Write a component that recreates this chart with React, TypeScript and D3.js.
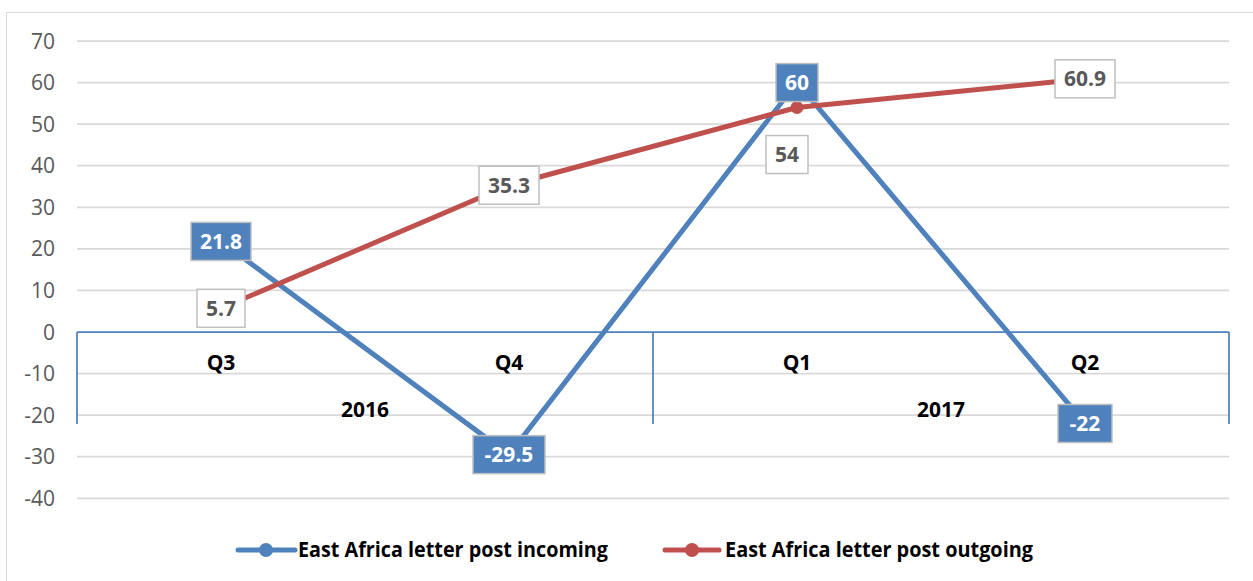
import React from "react";
import * as d3 from "d3";

const quarters = ["Q3", "Q4", "Q1", "Q2"];
const years = ["2016", "2017"];
const incoming = [21.8, -29.5, 60, -22];
const outgoing = [5.7, 35.3, 54, 60.9];
const yTicks = [70, 60, 50, 40, 30, 20, 10, 0, -10, -20, -30, -40];
const seriesNames = ["East Africa letter post incoming", "East Africa letter post outgoing"];

const BLUE = "#4F81BD";
const RED = "#C0504D";
const FONT = "'Open Sans', 'Liberation Sans', sans-serif";

export default function App() {
  const W = 1253, H = 581;
  const x0 = 77, x1 = 1229;
  const y = d3.scaleLinear().domain([-40, 70]).range([498.3, 41]);
  const band = d3.scaleBand().domain(quarters.map((q, i) => q + i)).range([x0, x1]);
  const cx = (i: number) => (band(quarters[i] + i) as number) + band.bandwidth() / 2;
  const y0 = y(0);
  const axisBottom = 424;

  const line = d3.line<number>().x((_, i) => cx(i)).y((d) => y(d));

  const labelW = (t: string) => t.length * 12 + (t.includes(".") ? -2 : 0) + 18;

  const renderLabel = (v: number, i: number, filled: boolean, dx = 0, dy = 0) => {
    const t = String(v);
    const w = Math.max(40, t.replace(".", "").length * 12 + (t.includes(".") ? 6 : 0) + 18);
    const px = cx(i) + dx;
    const py = y(v) + dy;
    return (
      <g key={(filled ? "b" : "r") + i}>
        <rect x={px - w / 2} y={py - 19} width={w} height={38}
          fill={filled ? BLUE : "#FFFFFF"} stroke="#BFBFBF" strokeWidth={1.5} />
        <text x={px} y={py + 7.5} textAnchor="middle" fontFamily={FONT} fontWeight="bold"
          fontSize={21} fill={filled ? "#FFFFFF" : "#595959"}>{t}</text>
      </g>
    );
  };

  return (
    <svg width={W} height={H} style={{ position: "absolute", left: 0, top: 0 }}>
      <rect x={0} y={0} width={W} height={H} fill="#FFFFFF" />
      <rect x={6.5} y={12.5} width={1260} height={600} fill="none" stroke="#D9D9D9" strokeWidth={1} />
      {yTicks.map((t) => (
        <g key={t}>
          {t !== 0 && <line x1={x0} x2={x1} y1={y(t)} y2={y(t)} stroke="#D9D9D9" strokeWidth={1.75} />}
          <text x={55} y={y(t) + 7.5} textAnchor="end" fontFamily={FONT} fontSize={21} fill="#595959">{t}</text>
        </g>
      ))}
      <line x1={x0} x2={x1} y1={y0} y2={y0} stroke={BLUE} strokeWidth={1.75} />
      {[x0, (x0 + x1) / 2, x1].map((xx, i) => (
        <line key={i} x1={xx} x2={xx} y1={y0} y2={axisBottom} stroke={BLUE} strokeWidth={1.75} />
      ))}
      {quarters.map((q, i) => (
        <text key={q} x={cx(i)} y={370} textAnchor="middle" fontFamily={FONT} fontWeight="bold" fontSize={21} fill="#000000">{q}</text>
      ))}
      {years.map((yr, i) => (
        <text key={yr} x={(cx(i * 2) + cx(i * 2 + 1)) / 2} y={417} textAnchor="middle" fontFamily={FONT} fontWeight="bold" fontSize={21} fill="#000000">{yr}</text>
      ))}
      <path d={line(incoming) as string} fill="none" stroke={BLUE} strokeWidth={5} strokeLinejoin="round" />
      {incoming.map((v, i) => <circle key={"bc" + i} cx={cx(i)} cy={y(v)} r={6.5} fill={BLUE} />)}
      <path d={line(outgoing) as string} fill="none" stroke={RED} strokeWidth={5} strokeLinejoin="round" />
      {outgoing.map((v, i) => <circle key={"rc" + i} cx={cx(i)} cy={y(v)} r={6.5} fill={RED} />)}
      {incoming.map((v, i) => renderLabel(v, i, true))}
      {outgoing.map((v, i) => (i === 2 ? renderLabel(v, i, false, -10, 47) : renderLabel(v, i, false)))}
      {/* legend */}
      <line x1={238} x2={295} y1={550} y2={550} stroke={BLUE} strokeWidth={5} strokeLinecap="round" />
      <circle cx={266} cy={550} r={7} fill={BLUE} />
      <text x={298} y={557} fontFamily={FONT} fontWeight="bold" fontSize={21} fill="#000000"
        textLength={310} lengthAdjust="spacingAndGlyphs">{seriesNames[0]}</text>
      <line x1={665} x2={719} y1={550} y2={550} stroke={RED} strokeWidth={5} strokeLinecap="round" />
      <circle cx={692} cy={550} r={7} fill={RED} />
      <text x={725} y={557} fontFamily={FONT} fontWeight="bold" fontSize={21} fill="#000000"
        textLength={308} lengthAdjust="spacingAndGlyphs">{seriesNames[1]}</text>
    </svg>
  );
}
